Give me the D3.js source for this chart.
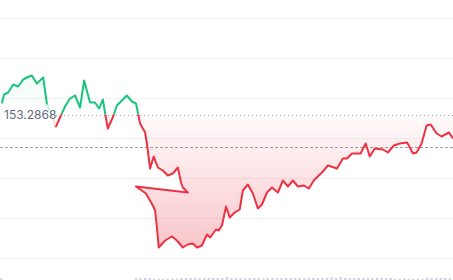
<!DOCTYPE html>
<html>
<head>
<meta charset="utf-8">
<script src="https://d3js.org/d3.v7.min.js"></script>
<style>
body { margin: 0; background: #ffffff; }
svg { display: block; font-family: Inter, "Noto Sans", sans-serif; }
</style>
</head>
<body>
<svg width="453" height="280"></svg>
<script>
// price data (time in minutes, price)
var times = [0.4, 0.9, 1.8, 2.9, 4.0, 5.1, 5.9, 7.0, 8.1, 9.5, 10.3, 12.3, 14.3, 15.4, 16.5, 17.6, 18.5, 19.8, 20.9, 21.8,
  22.6, 23.7, 24.8, 25.7, 26.8, 27.9, 29.0, 29.9, 30.8, 31.9, 32.3, 33.0, 33.8, 34.7, 35.8, 36.9, 38.0, 39.1, 39.8, 40.2,
  41.3, 29.9, 32.1, 33.6, 34.1, 34.5, 34.9, 36.3, 37.8, 38.9, 40.2, 41.3, 42.4, 43.3, 44.4, 45.5, 46.2, 47.5, 48.1, 48.8,
  49.7, 50.5, 51.6, 52.7, 53.4, 54.5, 55.6, 56.7, 57.6, 58.7, 59.8, 61.1, 62.2, 63.3, 64.4, 65.5, 66.8, 67.9, 69.0, 70.1,
  71.0, 72.1, 74.1, 75.4, 76.3, 77.4, 79.3, 80.4, 81.3, 82.4, 84.2, 85.3, 86.6, 87.9, 89.5, 90.8, 91.6, 92.7, 93.8, 94.7,
  96.0, 97.1, 98.7, 99.6];
var prices = [153.425, 153.5375, 153.5625, 153.6625, 153.6375, 153.725, 153.75, 153.775, 153.675, 153.75, 153.425, 153.1375, 153.3875, 153.4875, 153.525, 153.375, 153.7125, 153.4375, 153.4375, 153.3625,
  153.475, 153.1125, 153.25, 153.4, 153.4625, 153.525, 153.45, 153.425, 153.175, 153.0625, 152.925, 152.6125, 152.7625, 152.625, 152.5875, 152.525, 152.55, 152.625, 152.4375, 152.375,
  152.3125, 152.3875, 152.3, 152.15, 152.0875, 151.875, 151.625, 151.7125, 151.7625, 151.7125, 151.625, 151.6625, 151.675, 151.625, 151.65, 151.7875, 151.75, 151.85, 151.8375, 151.9,
  152.1375, 152.0, 152.0625, 152.1, 152.3375, 152.4125, 152.3, 152.1125, 152.1625, 152.3125, 152.375, 152.3125, 152.4625, 152.3875, 152.4625, 152.3875, 152.4, 152.3625, 152.4625, 152.525,
  152.575, 152.65, 152.6125, 152.7375, 152.7375, 152.8, 152.8, 152.925, 152.7625, 152.8625, 152.85, 152.8125, 152.9, 152.925, 152.9375, 152.8, 152.8125, 152.925, 153.15, 153.1625,
  153.05, 153.0125, 153.0625, 152.9875];

// volume data
var volTimes = [0.2];
var volumes = [20];
var volSeq = [20, 20, 20, 20, 13, 13, 13, 13, 13, 13, 20, 20, 20, 20, 20, 20, 20, 20, 20, 20,
  30, 20, 20, 20, 20, 20, 20, 20, 13, 20, 20, 20, 20, 20, 20, 20, 20, 20, 20, 20,
  20, 20, 20, 30, 20, 30, 20, 20, 20, 20, 20, 20, 20, 20, 20, 20, 20, 13, 13, 13,
  13, 13, 13, 13, 25, 20, 20, 20, 20, 20];
var volStart = 29.9;
volSeq.forEach(function(v, i) { volTimes.push(volStart + i); volumes.push(v); });

var baseValue = 153.2868;
var priceLineValue = 152.88;
var gridValues = [154.5, 154.0, 153.5, 153.0, 152.5, 152.0, 151.5];

var W = 453, H = 280;
var green = '#1bc47d', red = '#eb3343';

var data = times.map(function(t, i) { return {t: t, p: prices[i]}; });

var x = d3.scaleLinear().domain([0, 99.6]).range([0, W]);
var y = d3.scaleLinear().domain([153.5, 152.5]).range([97.5, 177.5]);
var yv = d3.scaleLinear().domain([0, 100]).range([H, H - 10]);
var baseY = y(baseValue);

var svg = d3.select('svg');
var defs = svg.append('defs');

// gradients
var gTop = defs.append('linearGradient').attr('id', 'gTop')
  .attr('gradientUnits', 'userSpaceOnUse').attr('x1', 0).attr('x2', 0).attr('y1', 60).attr('y2', baseY);
gTop.append('stop').attr('offset', 0).attr('stop-color', green).attr('stop-opacity', 0.1);
gTop.append('stop').attr('offset', 1).attr('stop-color', green).attr('stop-opacity', 0.0);
var gBot = defs.append('linearGradient').attr('id', 'gBot')
  .attr('gradientUnits', 'userSpaceOnUse').attr('x1', 0).attr('x2', 0).attr('y1', baseY).attr('y2', 250);
gBot.append('stop').attr('offset', 0).attr('stop-color', red).attr('stop-opacity', 0.02);
gBot.append('stop').attr('offset', 1).attr('stop-color', red).attr('stop-opacity', 0.28);

defs.append('clipPath').attr('id', 'above').append('rect')
  .attr('x', 0).attr('y', 0).attr('width', W).attr('height', baseY);
defs.append('clipPath').attr('id', 'below').append('rect')
  .attr('x', 0).attr('y', baseY).attr('width', W).attr('height', H - baseY);

// grid
svg.append('g').selectAll('line').data(gridValues).enter().append('line')
  .attr('x1', 0).attr('x2', W)
  .attr('y1', function(d) { return Math.round(y(d)) + 0.5; })
  .attr('y2', function(d) { return Math.round(y(d)) + 0.5; })
  .attr('stroke', '#f0f1f3').attr('stroke-width', 1);

// volume bars
svg.append('g').selectAll('rect').data(volumes).enter().append('rect')
  .attr('x', function(d, i) { return x(volTimes[i]) - 1.2; })
  .attr('y', function(d) { return yv(d); })
  .attr('width', 2.4)
  .attr('height', function(d) { return H - yv(d); })
  .attr('fill', '#d1d5e3');

var area = d3.area()
  .x(function(d) { return x(d.t); })
  .y0(baseY)
  .y1(function(d) { return y(d.p); });
var line = d3.line()
  .x(function(d) { return x(d.t); })
  .y(function(d) { return y(d.p); });

// fills
svg.append('path').datum(data).attr('d', area)
  .attr('fill', 'url(#gTop)').attr('clip-path', 'url(#above)');
svg.append('path').datum(data).attr('d', area)
  .attr('fill', 'url(#gBot)').attr('clip-path', 'url(#below)');

// price lines
svg.append('line')
  .attr('x1', 0).attr('x2', W)
  .attr('y1', Math.round(y(priceLineValue)) + 0.5).attr('y2', Math.round(y(priceLineValue)) + 0.5)
  .attr('stroke', '#9a9da8').attr('stroke-width', 1).attr('stroke-dasharray', '3,2');
svg.append('line')
  .attr('x1', 0).attr('x2', W)
  .attr('y1', Math.round(baseY) + 0.5).attr('y2', Math.round(baseY) + 0.5)
  .attr('stroke', '#9a9da8').attr('stroke-width', 1).attr('stroke-dasharray', '1,3');

// lines
svg.append('path').datum(data).attr('d', line)
  .attr('fill', 'none').attr('stroke', green).attr('stroke-width', 2)
  .attr('stroke-linejoin', 'round').attr('clip-path', 'url(#above)');
svg.append('path').datum(data).attr('d', line)
  .attr('fill', 'none').attr('stroke', red).attr('stroke-width', 2)
  .attr('stroke-linejoin', 'round').attr('clip-path', 'url(#below)');

// base value label
svg.append('rect')
  .attr('x', 0).attr('y', baseY - 10).attr('width', 56).attr('height', 21)
  .attr('fill', '#ffffff').attr('opacity', 0.8);
svg.append('text')
  .attr('x', 4).attr('y', baseY + 1)
  .attr('dominant-baseline', 'middle')
  .attr('font-size', 12)
  .attr('fill', '#636a80')
  .text(d3.format('.4f')(baseValue));
</script>
</body>
</html>
